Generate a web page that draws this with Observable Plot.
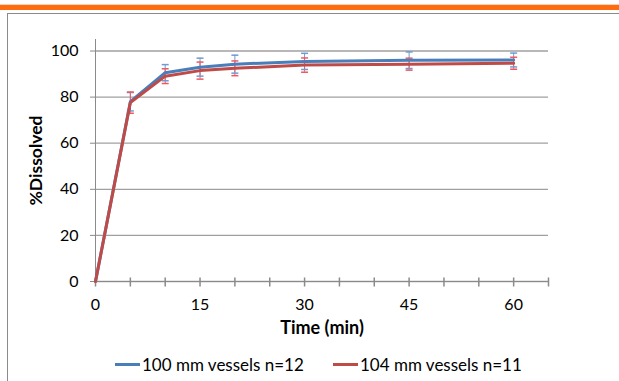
<!DOCTYPE html>
<html>
<head>
<meta charset="utf-8">
<script src="https://cdn.jsdelivr.net/npm/d3@7"></script>
<script src="https://cdn.jsdelivr.net/npm/@observablehq/plot@0.6"></script>
<style>
  html, body { margin: 0; padding: 0; background: #fff; }
  #wrap { position: relative; width: 619px; height: 381px; overflow: hidden; font-family: Lato, "Open Sans", sans-serif; }
  #band { position: absolute; left: 0; top: 4px; width: 619px; height: 1px; background: #fbd3b6; }
  #bar { position: absolute; left: 0; top: 5px; width: 619px; height: 5px; background: #fe6d12; }
  #frame { position: absolute; left: 7px; top: 13px; width: 700px; height: 500px; border: 1px solid #8a8a8a; border-right: none; border-bottom: none; }
  #chart { position: absolute; left: 0; top: 0; }
  #legend { position: absolute; top: 354px; left: 0; width: 619px; font-size: 17px; color: #000; }
  .item { position: absolute; top: 0; white-space: nowrap; display: flex; align-items: center; }
  .swatch { display: inline-block; width: 25px; height: 3px; margin-right: 2px; }
</style>
</head>
<body>
<div id="wrap">
  <div id="band"></div>
  <div id="bar"></div>
  <div id="frame"></div>
  <div id="chart"></div>
  <div id="legend"></div>
</div>
<script>
const times = [0, 5, 10, 15, 20, 30, 45, 60];
const seriesNames = ["100 mm vessels n=12", "104 mm vessels n=11"];
const blueValues = [0, 78.0, 90.6, 93.0, 94.3, 95.5, 96.0, 96.1];
const blueErr    = [0, 4.0, 3.5, 3.9, 3.9, 3.5, 3.6, 3.0];
const redValues  = [0, 77.6, 89.1, 91.5, 92.5, 93.9, 94.3, 94.7];
const redErr     = [0, 4.6, 3.2, 3.7, 3.2, 3.1, 2.6, 2.6];
const yTicks = [0, 20, 40, 60, 80, 100];
const xTicks = [0, 5, 10, 15, 20, 25, 30, 35, 40, 45, 50, 55, 60, 65];
const xLabels = [0, 15, 30, 45, 60];
const colors = ["#4a7ebb", "#be4b48"];
const errColors = ["#6f9bd3", "#ee5a62"];

const data = [];
times.forEach((t, i) => {
  data.push({t, v: blueValues[i], e: blueErr[i], s: seriesNames[0]});
});
times.forEach((t, i) => {
  data.push({t, v: redValues[i], e: redErr[i], s: seriesNames[1]});
});
const errData = data.filter(d => d.e > 0);

const vTick = {draw(ctx) { ctx.moveTo(0, -4); ctx.lineTo(0, 5); }};
const hCap = {draw(ctx) { ctx.moveTo(-3.5, 0); ctx.lineTo(3.5, 0); }};

const chart = Plot.plot({
  width: 619,
  height: 345,
  marginLeft: 95,
  marginRight: 71,
  marginTop: 39,
  marginBottom: 64,
  style: {fontFamily: "Lato, 'Open Sans', sans-serif", fontSize: "16px", color: "#000", background: "transparent"},
  x: {domain: [0, 65]},
  y: {domain: [0, 105]},
  marks: [
    Plot.gridY(yTicks, {stroke: "#a0a0a0", strokeOpacity: 1, strokeWidth: 1.3}),
    Plot.axisY(yTicks, {tickSize: 5, tickPadding: 12, stroke: "#8a8a8a", label: null, fontSize: 16}),
    Plot.axisX(xTicks, {tickSize: 0, tickPadding: 17, label: null, fontSize: 16,
      tickFormat: d => xLabels.includes(d) ? String(d) : ""}),
    Plot.ruleX([0], {y1: 0, y2: 105, stroke: "#8a8a8a"}),
    Plot.ruleY([0], {stroke: "#8a8a8a"}),
    Plot.dot(xTicks, {x: d => d, y: 0, symbol: vTick, stroke: "#8a8a8a", r: 5}),
    Plot.ruleX(errData, {x: "t", y1: d => d.v - d.e, y2: d => d.v + d.e,
      stroke: d => d.s, strokeWidth: 1}),
    Plot.dot(errData, {x: "t", y: d => d.v + d.e, symbol: hCap, stroke: d => d.s, r: 4, strokeWidth: 1.5}),
    Plot.dot(errData, {x: "t", y: d => d.v - d.e, symbol: hCap, stroke: d => d.s, r: 4, strokeWidth: 1.5}),
    Plot.line(data, {x: "t", y: "v", z: "s", stroke: d => d.s === seriesNames[0] ? colors[0] : colors[1],
      strokeWidth: 3, strokeLinejoin: "round"}),
    Plot.text(["%Dissolved"], {frameAnchor: "left", textAnchor: "middle", rotate: -90, dx: -59,
      fontWeight: "bold", fontSize: 17.5}),
    Plot.text(["Time (min)"], {frameAnchor: "bottom", dy: 52, fontWeight: "bold", fontSize: 18})
  ],
  color: {domain: seriesNames, range: errColors}
});
document.getElementById("chart").appendChild(chart);

const legend = document.getElementById("legend");
const lefts = [115, 333];
seriesNames.forEach((name, i) => {
  const item = document.createElement("div");
  item.className = "item";
  item.style.left = lefts[i] + "px";
  const sw = document.createElement("span");
  sw.className = "swatch";
  sw.style.background = colors[i];
  const tx = document.createElement("span");
  tx.textContent = name;
  item.appendChild(sw);
  item.appendChild(tx);
  legend.appendChild(item);
});
</script>
</body>
</html>
